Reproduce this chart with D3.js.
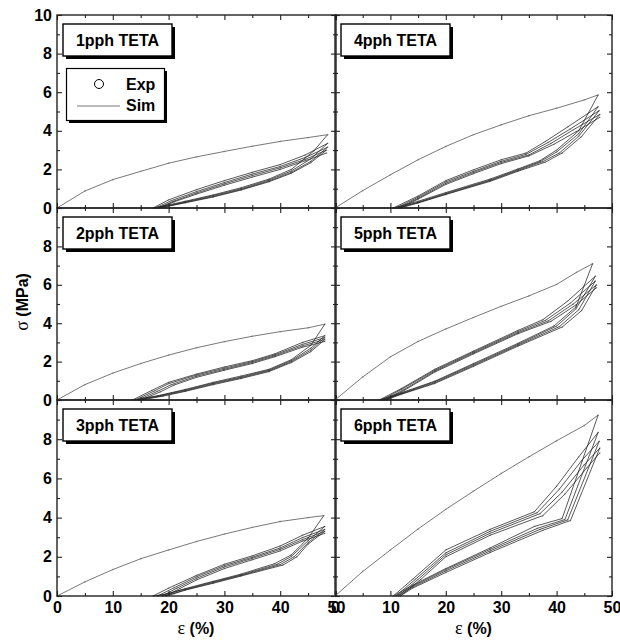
<!DOCTYPE html>
<html>
<head>
<meta charset="utf-8">
<script src="https://cdn.jsdelivr.net/npm/d3@7"></script>
<style>
  html, body { margin: 0; padding: 0; background: #fff; }
  svg { display: block; }
  text { font-family: "Liberation Sans", Arial, sans-serif; font-weight: bold; fill: #000; }
</style>
</head>
<body>
<svg id="chart" width="620" height="642"></svg>
<script>
// Panel titles, in reading order (left column top to bottom is 1, 2, 3 pph; right is 4, 5, 6 pph)
const panelNames = ["1pph TETA", "4pph TETA", "2pph TETA", "5pph TETA", "3pph TETA", "6pph TETA"];
const strainTicks = [0, 10, 20, 30, 40, 50];
const strainMinor = [5, 15, 25, 35, 45];
const stressTicks = [0, 2, 4, 6, 8, 10];
const stressMinor = [1, 3, 5, 7, 9];
const legendLabels = ["Exp", "Sim"];

// Each test: first loading curve, then alternating unloading / reloading branches  [strain %, stress MPa]
const loading1pph = [[0,0],[5,0.88],[10,1.47],[15,1.9],[20,2.32],[25,2.65],[30,2.93],[35,3.2],[40,3.45],[45,3.65],[48.5,3.8]];
const cycles1pph = [
  [[46,2.95],[42,2.0],[38,1.5],[33,1.05],[28,0.68],[23,0.35],[19,0.1],[17.2,0]],
  [[20,0.42],[25,0.95],[30,1.42],[35,1.85],[40,2.25],[44.5,2.75],[48.5,3.35]],
  [[45.5,2.55],[42,1.92],[38,1.45],[33,1.0],[28,0.64],[23,0.32],[19.5,0.1],[17.6,0]],
  [[20.5,0.38],[25,0.85],[30,1.32],[35,1.76],[40,2.15],[44.5,2.62],[48.5,3.15]],
  [[45.5,2.42],[42,1.85],[38,1.4],[33,0.96],[28,0.6],[23,0.29],[20,0.1],[18,0]],
  [[21,0.36],[25,0.78],[30,1.25],[35,1.68],[40,2.08],[44.5,2.52],[48.3,3.0]],
  [[45.5,2.35],[42,1.8],[38,1.36],[33,0.93],[28,0.57],[23,0.27],[20,0.1],[18.3,0]],
  [[21,0.32],[25,0.72],[30,1.18],[35,1.6],[40,2.0],[44.5,2.45],[48.3,2.85]]
];

const loading2pph = [[0,0],[5,0.8],[10,1.4],[15,1.9],[20,2.34],[25,2.72],[30,3.04],[35,3.32],[40,3.56],[45,3.76],[48,3.95]];
const cycles2pph = [
  [[45.5,2.85],[42,2.1],[38,1.6],[33,1.25],[28,0.92],[23,0.55],[18,0.22],[13.5,0]],
  [[17,0.5],[20,0.92],[25,1.35],[30,1.72],[35,2.05],[39,2.4],[44,3.0],[48,3.35]],
  [[45.5,2.7],[42,2.05],[38,1.56],[33,1.2],[28,0.88],[23,0.52],[18,0.2],[14,0]],
  [[17.5,0.48],[20,0.85],[25,1.3],[30,1.66],[35,2.0],[39,2.35],[44,2.9],[48,3.25]],
  [[45.5,2.6],[42,2.0],[38,1.52],[33,1.16],[28,0.84],[23,0.48],[18.5,0.2],[14.5,0]],
  [[18,0.45],[20.5,0.8],[25,1.24],[30,1.6],[35,1.95],[39,2.3],[44,2.82],[48,3.15]],
  [[45.5,2.52],[42,1.95],[38,1.48],[33,1.12],[28,0.8],[23,0.45],[19,0.2],[15,0]],
  [[18.5,0.42],[21,0.78],[25,1.18],[30,1.55],[35,1.9],[39,2.25],[44,2.75],[48,3.05]]
];

const loading3pph = [[0,0],[5,0.72],[10,1.35],[15,1.9],[20,2.35],[25,2.78],[30,3.16],[35,3.5],[40,3.8],[45,4.0],[47.8,4.1]];
const cycles3pph = [
  [[45,2.95],[42,2.1],[39,1.65],[33,1.12],[28,0.75],[23,0.38],[19.5,0.1],[17.2,0]],
  [[20,0.4],[25,1.05],[30,1.62],[35,2.05],[40,2.55],[44,3.1],[48,3.55]],
  [[45,2.82],[42,2.02],[39.5,1.62],[33,1.08],[28,0.72],[23,0.35],[20,0.12],[18,0]],
  [[21,0.42],[25,0.98],[30,1.55],[35,1.98],[40,2.45],[44,2.98],[48,3.4]],
  [[45,2.72],[42.5,2.0],[40,1.6],[33,1.05],[28,0.68],[23,0.32],[20.5,0.1],[18.8,0]],
  [[21.5,0.4],[25,0.9],[30,1.48],[35,1.92],[40,2.38],[44,2.88],[48,3.3]],
  [[45,2.65],[43,2.0],[40.5,1.58],[33,1.02],[28,0.65],[23,0.3],[21,0.12],[19.5,0]],
  [[22,0.38],[25,0.82],[30,1.4],[35,1.85],[40,2.3],[44,2.8],[48,3.2]]
];

const loading4pph = [[0,0],[5,0.9],[10,1.72],[15,2.5],[20,3.19],[25,3.8],[30,4.31],[35,4.78],[40,5.17],[45,5.6],[47.5,5.86]];
const cycles4pph = [
  [[44,4.0],[40,3.0],[37,2.45],[33,2.02],[28,1.5],[20,0.8],[15,0.35],[10.5,0]],
  [[15,0.62],[20,1.42],[25,1.98],[30,2.5],[34.5,2.85],[38,3.45],[42,4.2],[47.5,5.25]],
  [[44,3.85],[40,2.9],[37,2.4],[33,1.98],[28,1.45],[20,0.76],[15,0.3],[11,0]],
  [[15,0.56],[20,1.35],[25,1.9],[30,2.42],[34.5,2.78],[38.5,3.4],[42.5,4.1],[47.7,5.05]],
  [[44,3.72],[40.5,2.85],[37.5,2.4],[33,1.94],[28,1.42],[20,0.72],[15,0.28],[11.4,0]],
  [[15,0.5],[20,1.28],[25,1.84],[30,2.36],[35,2.75],[39,3.35],[43,4.05],[47.8,4.85]],
  [[44.5,3.7],[41,2.85],[38,2.38],[33,1.9],[28,1.38],[20,0.7],[15,0.26],[11.8,0]],
  [[15,0.46],[20,1.22],[25,1.78],[30,2.3],[35,2.7],[39.5,3.3],[43.5,3.95],[47.8,4.7]]
];

const loading5pph = [[0,0],[5,1.2],[10,2.25],[15,3.05],[20,3.7],[25,4.3],[30,4.88],[35,5.42],[40,6.02],[43.6,6.65],[46.5,7.1]];
const cycles5pph = [
  [[43.5,4.85],[39.5,3.85],[33,2.95],[25,1.9],[18,0.98],[12,0.38],[8,0]],
  [[12,0.6],[18,1.6],[25,2.55],[33,3.62],[37.5,4.18],[42,5.15],[47,6.45]],
  [[43.5,4.75],[40,3.85],[33,2.9],[25,1.85],[18,0.95],[12,0.35],[8.4,0]],
  [[12,0.55],[18,1.55],[25,2.5],[33,3.56],[38,4.15],[42.5,5.05],[47,6.2]],
  [[44,4.7],[40.5,3.82],[33,2.85],[25,1.8],[18,0.9],[12,0.32],[8.8,0]],
  [[12.5,0.55],[18,1.5],[25,2.45],[33,3.5],[38.5,4.12],[43,5.0],[47.2,6.0]],
  [[44.5,4.65],[41,3.8],[33,2.8],[25,1.75],[18,0.86],[12,0.3],[9.2,0]],
  [[12.5,0.5],[18,1.45],[25,2.4],[33,3.45],[39,4.1],[43.5,4.95],[47.2,5.85]]
];

const loading6pph = [[0,0],[5,1.25],[10,2.35],[15,3.42],[20,4.42],[25,5.35],[30,6.25],[35,7.1],[40,7.92],[45,8.7],[47.5,9.23]];
const cycles6pph = [
  [[41,3.95],[36,3.55],[28,2.45],[20,1.4],[14,0.55],[10.5,0]],
  [[14,0.85],[20,2.35],[28,3.4],[36,4.3],[40,5.6],[44,7.1],[47.5,8.35]],
  [[41.5,3.9],[36.5,3.45],[28,2.38],[20,1.35],[14,0.5],[11,0]],
  [[14.5,0.85],[20,2.2],[28,3.3],[36.5,4.25],[40.5,5.45],[44.5,6.9],[47.7,7.9]],
  [[42,3.88],[37,3.4],[28,2.3],[20,1.28],[14,0.45],[11.4,0]],
  [[15,0.85],[20,2.1],[28,3.2],[37,4.2],[41,5.3],[45,6.7],[47.8,7.55]],
  [[42.5,3.85],[37.5,3.35],[28,2.22],[20,1.2],[14,0.4],[11.8,0]],
  [[15.5,0.85],[20,2.0],[28,3.1],[37.5,4.1],[41.5,5.2],[45.5,6.55],[47.8,7.3]]
];

const panelLoading = [loading1pph, loading4pph, loading2pph, loading5pph, loading3pph, loading6pph];
const panelCycles  = [cycles1pph, cycles4pph, cycles2pph, cycles5pph, cycles3pph, cycles6pph];

// ---- layout ----
const svg = d3.select("#chart");
const colX = [[57, 336], [335, 612]];
const rowY = [[15, 208], [208, 400], [400, 596]];
const fontTick = 16;

panelNames.forEach((name, i) => {
  const col = i % 2, row = Math.floor(i / 2);
  const x = d3.scaleLinear().domain([0, 50]).range(colX[col]);
  const y = d3.scaleLinear().domain([0, 10]).range([rowY[row][1], rowY[row][0]]);
  const g = svg.append("g");
  const [x0, x1] = colX[col], [y0, y1] = rowY[row];

  const line = d3.line().x(d => x(d[0])).y(d => y(d[1]));
  const cyclePath = [panelLoading[i][panelLoading[i].length - 1]].concat(...panelCycles[i]);
  const allPoints = panelLoading[i].concat(...panelCycles[i]);

  // experimental points (faint grey dots)
  g.append("g").selectAll("circle").data(allPoints).join("circle")
    .attr("cx", d => x(d[0])).attr("cy", d => y(d[1])).attr("r", 0.9)
    .attr("fill", "#9a9a9a").attr("opacity", 0.7);

  // simulated first loading
  g.append("path").datum(panelLoading[i]).attr("d", line)
    .attr("fill", "none").attr("stroke", "#555").attr("stroke-width", 0.8);
  // simulated unloading / reloading cycles
  g.append("path").datum(cyclePath).attr("d", line)
    .attr("fill", "none").attr("stroke", "#222").attr("stroke-width", 0.75)
    .attr("stroke-linejoin", "round");

  // frame
  g.append("rect").attr("x", x0).attr("y", y0).attr("width", x1 - x0).attr("height", y1 - y0)
    .attr("fill", "none").attr("stroke", "#222").attr("stroke-width", 1.4);

  const styleAxis = (sel) => {
    sel.select(".domain").remove();
    sel.selectAll("line").attr("stroke", "#222").attr("stroke-width", 1.1);
    sel.selectAll("text").style("font-size", fontTick + "px").attr("fill", "#000");
  };

  // bottom edge
  const bottomMaj = d3.axisBottom(x).tickValues(strainTicks).tickSize(-5).tickPadding(6)
    .tickFormat(row === 2 ? d3.format("d") : () => "");
  g.append("g").attr("transform", `translate(0,${y1})`).call(bottomMaj).call(styleAxis);
  g.append("g").attr("transform", `translate(0,${y1})`)
    .call(d3.axisBottom(x).tickValues(strainMinor).tickSize(-3).tickFormat(() => "")).call(styleAxis);
  // top edge
  g.append("g").attr("transform", `translate(0,${y0})`)
    .call(d3.axisTop(x).tickValues(strainTicks).tickSize(-5).tickFormat(() => "")).call(styleAxis);
  g.append("g").attr("transform", `translate(0,${y0})`)
    .call(d3.axisTop(x).tickValues(strainMinor).tickSize(-3).tickFormat(() => "")).call(styleAxis);
  // left edge
  const leftLabels = col === 0 ? (row === 0 ? stressTicks : stressTicks.slice(0, 5)) : [];
  g.append("g").attr("transform", `translate(${x0},0)`)
    .call(d3.axisLeft(y).tickValues(stressTicks).tickSize(-5).tickPadding(5)
      .tickFormat(d => leftLabels.includes(d) ? d : "")).call(styleAxis);
  g.append("g").attr("transform", `translate(${x0},0)`)
    .call(d3.axisLeft(y).tickValues(stressMinor).tickSize(-3).tickFormat(() => "")).call(styleAxis);
  // right edge
  g.append("g").attr("transform", `translate(${x1},0)`)
    .call(d3.axisRight(y).tickValues(stressTicks).tickSize(-5).tickFormat(() => "")).call(styleAxis);
  g.append("g").attr("transform", `translate(${x1},0)`)
    .call(d3.axisRight(y).tickValues(stressMinor).tickSize(-3).tickFormat(() => "")).call(styleAxis);

  // title box with drop shadow
  const bx = col === 0 ? 63 : 341, by = y0 + 9, bw = 109, bh = 32;
  g.append("rect").attr("x", bx + 3).attr("y", by + 3).attr("width", bw).attr("height", bh).attr("fill", "#000");
  g.append("rect").attr("x", bx).attr("y", by).attr("width", bw).attr("height", bh)
    .attr("fill", "#fff").attr("stroke", "#000").attr("stroke-width", 1.4);
  g.append("text").attr("x", bx + bw / 2).attr("y", by + 22).attr("text-anchor", "middle")
    .style("font-size", "16px").text(name);
});

// legend (first panel)
const lg = svg.append("g");
lg.append("rect").attr("x", 69).attr("y", 71).attr("width", 98).attr("height", 52).attr("fill", "#000");
lg.append("rect").attr("x", 66.5).attr("y", 68.5).attr("width", 98).attr("height", 52)
  .attr("fill", "#fff").attr("stroke", "#000").attr("stroke-width", 1.2);
lg.append("circle").attr("cx", 99).attr("cy", 84).attr("r", 4.5)
  .attr("fill", "none").attr("stroke", "#000").attr("stroke-width", 1);
lg.append("line").attr("x1", 77).attr("x2", 120).attr("y1", 106).attr("y2", 106)
  .attr("stroke", "#555").attr("stroke-width", 0.8);
lg.append("text").attr("x", 126).attr("y", 90).style("font-size", "16px").text(legendLabels[0]);
lg.append("text").attr("x", 126).attr("y", 111).style("font-size", "16px").text(legendLabels[1]);

// axis titles
const axisTitle = (sel, sym, rest) => {
  sel.append("tspan").style("font-family", "'Liberation Serif', 'DejaVu Serif', serif")
    .style("font-weight", "normal").style("font-size", "18px").text(sym);
  sel.append("tspan").text(rest);
};
[196, 473.5].forEach(cx => {
  svg.append("text").attr("x", cx).attr("y", 634).attr("text-anchor", "middle")
    .style("font-size", "16px").call(axisTitle, "ε", " (%)");
});
svg.append("text").attr("transform", "translate(28,302) rotate(-90)").attr("text-anchor", "middle")
  .style("font-size", "16px").call(axisTitle, "σ", " (MPa)");
</script>
</body>
</html>
